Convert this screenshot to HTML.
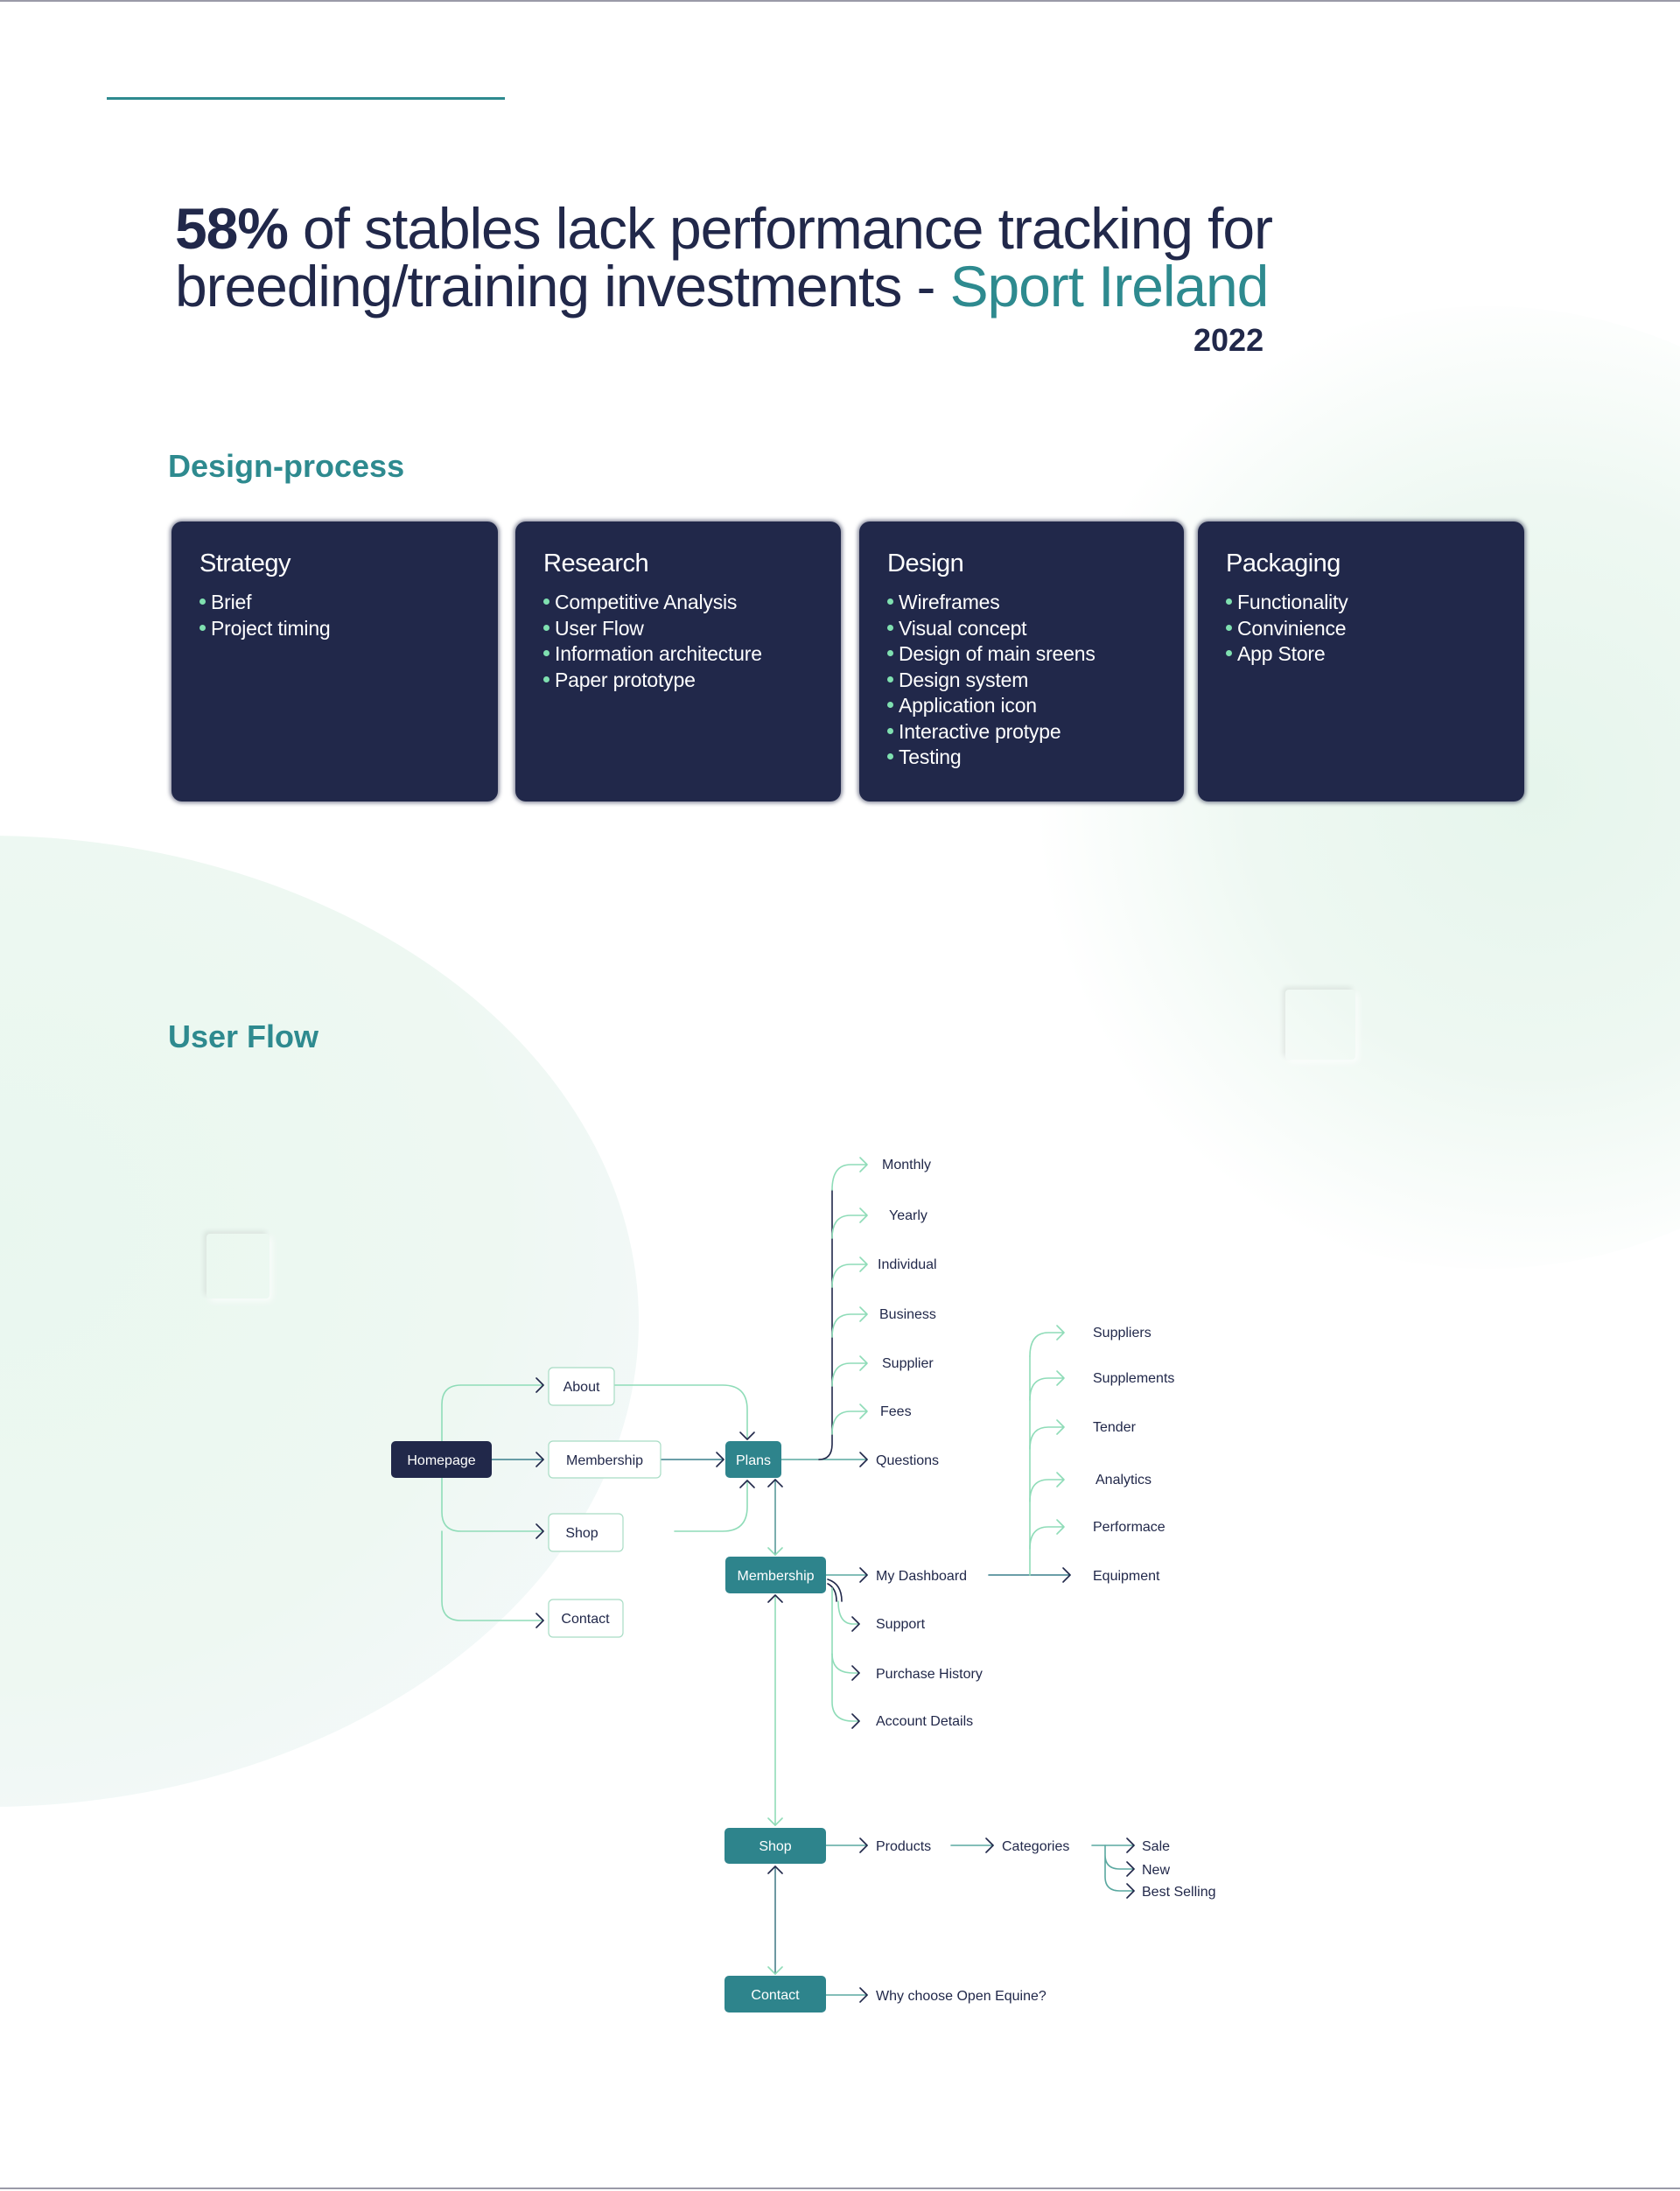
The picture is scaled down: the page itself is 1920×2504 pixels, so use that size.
<!DOCTYPE html>
<html><head><meta charset="utf-8"><style>
html,body{margin:0;padding:0}
body{width:1920px;height:2504px;position:relative;overflow:hidden;background:#fff;font-family:"Liberation Sans",sans-serif;color:#21284a}
.bg1{position:absolute;left:-760px;top:955px;width:1490px;height:1110px;border-radius:50%;background:radial-gradient(ellipse at 50% 40%,#e9f7ef 0%,#eef8f2 55%,#f5f9fb 85%,#f8fafc 100%)}
.bg2{position:absolute;left:1150px;top:350px;width:1100px;height:1100px;border-radius:50%;background:radial-gradient(circle at 55% 50%,#e6f5ec 0%,#eef8f2 40%,rgba(255,255,255,0) 70%)}
.sq{position:absolute;border-radius:4px;box-shadow:-3px -3px 6px rgba(0,0,0,0.08),3px 3px 8px rgba(255,255,255,0.8);background:transparent}
.t{position:absolute;white-space:nowrap}
.card{position:absolute;top:596px;height:320px;background:#21284a;border-radius:12px;box-shadow:0 0 4px 2px rgba(33,40,74,0.5);color:#fff}
.card h3{position:absolute;left:32px;top:32px;margin:0;font-weight:normal;font-size:29px;letter-spacing:-0.5px}
.card ul{position:absolute;left:32px;top:78px;margin:0;padding:0;list-style:none;font-size:23px;line-height:29.5px;letter-spacing:-0.2px}
.card li::before{content:"";display:inline-block;width:7px;height:7px;border-radius:50%;background:#7fe0b0;margin-right:6px;vertical-align:middle;position:relative;top:-2px}
svg{position:absolute;left:0;top:0}
</style></head><body>
<div style="position:absolute;left:0;top:0;width:1920px;height:2px;background:#9a9aa8"></div>
<div style="position:absolute;left:0;top:2500px;width:1920px;height:2px;background:#9a9aa8"></div>
<div class="bg2"></div>
<div class="bg1"></div>
<div class="sq" style="left:1469px;top:1131px;width:80px;height:80px"></div>
<div class="sq" style="left:236px;top:1410px;width:72px;height:74px"></div>
<div style="position:absolute;left:122px;top:111px;width:455px;height:3px;background:#2e8a8f"></div>

<div class="t" style="left:200px;top:228px;font-size:66px;line-height:66px;letter-spacing:-1.1px"><b>58%</b> of stables lack performance tracking for</div>
<div class="t" style="left:200px;top:294px;font-size:66px;line-height:66px;letter-spacing:-1.1px">breeding/training investments - <span style="color:#2e8a8f">Sport Ireland</span></div>
<div class="t" style="left:1364px;top:368px;font-size:36px;font-weight:bold">2022</div>

<div class="t" style="left:192px;top:512px;font-size:36px;font-weight:bold;color:#2e8a8f;letter-spacing:0px">Design-process</div>

<div class="card" style="left:196px;width:373px"><h3>Strategy</h3><ul><li>Brief</li><li>Project timing</li></ul></div>
<div class="card" style="left:589px;width:372px"><h3>Research</h3><ul><li>Competitive Analysis</li><li>User Flow</li><li>Information architecture</li><li>Paper prototype</li></ul></div>
<div class="card" style="left:982px;width:371px"><h3>Design</h3><ul><li>Wireframes</li><li>Visual concept</li><li>Design of main sreens</li><li>Design system</li><li>Application icon</li><li>Interactive protype</li><li>Testing</li></ul></div>
<div class="card" style="left:1369px;width:373px"><h3>Packaging</h3><ul><li>Functionality</li><li>Convinience</li><li>App Store</li></ul></div>

<div class="t" style="left:192px;top:1164px;font-size:36px;font-weight:bold;color:#2e8a8f;letter-spacing:0px">User Flow</div>

<svg width="1920" height="2504" viewBox="0 0 1920 2504" font-family="Liberation Sans, sans-serif" font-size="16" fill="#21284a">
<g fill="none" stroke-width="1.6" stroke-linecap="round" stroke-linejoin="round">
<path d="M505 1647 V1605 Q505 1583 527 1583 H621" stroke="#8fdcb8"/>
<path d="M505 1689 V1728 Q505 1750 527 1750 H621" stroke="#8fdcb8"/>
<path d="M505 1750 V1830 Q505 1852 527 1852 H621" stroke="#8fdcb8"/>
<path d="M562 1668 H621" stroke="#3a7f8c"/>
<path d="M613 1575 L621 1583 L613 1591 M613 1660 L621 1668 L613 1676 M613 1742 L621 1750 L613 1758 M613 1844 L621 1852 L613 1860" stroke="#21284a"/>
<path d="M755 1668 H827" stroke="#3a7f8c"/>
<path d="M819 1660 L827 1668 L819 1676" stroke="#21284a"/>
<path d="M702 1583 H826 Q854 1583 854 1611 V1645" stroke="#8fdcb8"/>
<path d="M846 1637 L854 1645 L862 1637" stroke="#21284a"/>
<path d="M771 1750 H826 Q854 1750 854 1722 V1692" stroke="#8fdcb8"/>
<path d="M846 1700 L854 1692 L862 1700" stroke="#21284a"/>
<path d="M886 1691 V1777" stroke="#5a9a9a"/>
<path d="M878 1699 L886 1691 L894 1699" stroke="#21284a"/>
<path d="M878 1769 L886 1777 L894 1769" stroke="#8fdcb8"/>
<path d="M893 1668 H991" stroke="#5aa8a0"/>
<path d="M983 1660 L991 1668 L983 1676" stroke="#21284a"/>
<path d="M936 1668 Q951 1668 951 1650 V1360" stroke="#21284a"/>
<g stroke="#8fdcb8">
<path d="M951 1360 Q951 1331 972 1331 H991 M983 1323 L991 1331 L983 1339"/>
<path d="M951 1415 Q951 1389 972 1389 H991 M983 1381 L991 1389 L983 1397"/>
<path d="M951 1471 Q951 1445 972 1445 H991 M983 1437 L991 1445 L983 1453"/>
<path d="M951 1528 Q951 1502 972 1502 H991 M983 1494 L991 1502 L983 1510"/>
<path d="M951 1584 Q951 1558 972 1558 H991 M983 1550 L991 1558 L983 1566"/>
<path d="M951 1639 Q951 1613 972 1613 H991 M983 1605 L991 1613 L983 1621"/>
</g>
<path d="M944 1800 H991" stroke="#5aa8a0"/>
<path d="M983 1792 L991 1800 L983 1808" stroke="#21284a"/>
<path d="M946 1805 Q962 1810 962 1830 M946 1810 Q956 1815 956 1830" stroke="#21284a"/>
<path d="M951 1815 V1945 Q951 1967 975 1967 H982" stroke="#8fdcb8"/>
<path d="M958 1830 Q958 1856 975 1856 H982" stroke="#8fdcb8"/>
<path d="M951 1890 Q951 1912 975 1912 H982" stroke="#8fdcb8"/>
<path d="M974 1848 L982 1856 L974 1864 M974 1904 L982 1912 L974 1920 M974 1959 L982 1967 L974 1975" stroke="#21284a"/>
<path d="M1130 1800 H1223" stroke="#3a7f8c"/>
<path d="M1215 1792 L1223 1800 L1215 1808" stroke="#21284a"/>
<path d="M1177 1800 V1550" stroke="#8fdcb8"/>
<g stroke="#8fdcb8">
<path d="M1177 1550 Q1177 1523 1198 1523 H1216 M1208 1515 L1216 1523 L1208 1531"/>
<path d="M1177 1600 Q1177 1575 1198 1575 H1216 M1208 1567 L1216 1575 L1208 1583"/>
<path d="M1177 1656 Q1177 1631 1198 1631 H1216 M1208 1623 L1216 1631 L1208 1639"/>
<path d="M1177 1716 Q1177 1691 1198 1691 H1216 M1208 1683 L1216 1691 L1208 1699"/>
<path d="M1177 1770 Q1177 1745 1198 1745 H1216 M1208 1737 L1216 1745 L1208 1753"/>
</g>
<path d="M886 1823 V2086" stroke="#8fdcb8"/>
<path d="M878 1831 L886 1823 L894 1831" stroke="#21284a"/>
<path d="M878 2078 L886 2086 L894 2078" stroke="#8fdcb8"/>
<path d="M944 2109 H991 M1087 2109 H1135 M1248 2109 H1296" stroke="#5aa8a0"/>
<path d="M983 2101 L991 2109 L983 2117 M1127 2101 L1135 2109 L1127 2117 M1288 2101 L1296 2109 L1288 2117" stroke="#21284a"/>
<path d="M1263 2109 V2120 Q1263 2136 1280 2136 H1296 M1263 2120 V2145 Q1263 2161 1280 2161 H1296" stroke="#5aa8a0"/>
<path d="M1288 2128 L1296 2136 L1288 2144 M1288 2153 L1296 2161 L1288 2169" stroke="#21284a"/>
<path d="M886 2133 V2256" stroke="#4a7f8a"/>
<path d="M878 2141 L886 2133 L894 2141" stroke="#21284a"/>
<path d="M878 2248 L886 2256 L894 2248" stroke="#8fdcb8"/>
<path d="M944 2280 H991" stroke="#5aa8a0"/>
<path d="M983 2272 L991 2280 L983 2288" stroke="#21284a"/>
</g>
<rect x="447" y="1647" width="115" height="42" rx="5" fill="#21284a"/>
<text x="504.5" y="1674" text-anchor="middle" fill="#fff">Homepage</text>
<g fill="#fff" stroke="#a8dcc4" stroke-width="1.2">
<rect x="627" y="1563" width="75" height="43" rx="5"/>
<rect x="627" y="1647" width="128" height="42" rx="5"/>
<rect x="627" y="1730" width="85" height="43" rx="5"/>
<rect x="627" y="1828" width="85" height="43" rx="5"/>
</g>
<text x="664.5" y="1590" text-anchor="middle">About</text>
<text x="691" y="1674" text-anchor="middle">Membership</text>
<text x="665" y="1757" text-anchor="middle">Shop</text>
<text x="669" y="1855" text-anchor="middle">Contact</text>
<g fill="#2e848c">
<rect x="829" y="1647" width="64" height="42" rx="5"/>
<rect x="829" y="1779" width="115" height="42" rx="5"/>
<rect x="828" y="2089" width="116" height="41" rx="5"/>
<rect x="828" y="2258" width="116" height="42" rx="5"/>
</g>
<g fill="#fff" text-anchor="middle">
<text x="861" y="1674">Plans</text>
<text x="886.5" y="1806">Membership</text>
<text x="886" y="2115">Shop</text>
<text x="886" y="2285">Contact</text>
</g>
<g font-size="16">
<text x="1008" y="1336">Monthly</text>
<text x="1016" y="1394">Yearly</text>
<text x="1003" y="1450">Individual</text>
<text x="1005" y="1507">Business</text>
<text x="1008" y="1563">Supplier</text>
<text x="1006" y="1618">Fees</text>
<text x="1001" y="1674">Questions</text>
<text x="1001" y="1806">My Dashboard</text>
<text x="1001" y="1861">Support</text>
<text x="1001" y="1918">Purchase History</text>
<text x="1001" y="1972">Account Details</text>
<text x="1249" y="1528">Suppliers</text>
<text x="1249" y="1580">Supplements</text>
<text x="1249" y="1636">Tender</text>
<text x="1252" y="1696">Analytics</text>
<text x="1249" y="1750">Performace</text>
<text x="1249" y="1806">Equipment</text>
<text x="1001" y="2115">Products</text>
<text x="1145" y="2115">Categories</text>
<text x="1305" y="2115">Sale</text>
<text x="1305" y="2142">New</text>
<text x="1305" y="2167">Best Selling</text>
<text x="1001" y="2286">Why choose Open Equine?</text>
</g>
</svg>
</body></html>
